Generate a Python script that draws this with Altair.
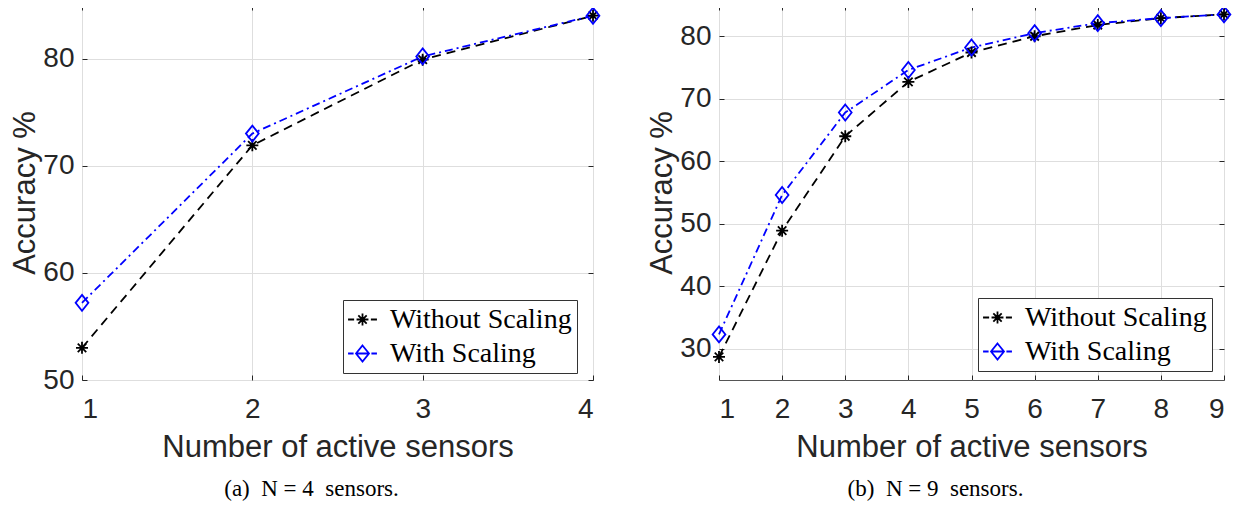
import altair as alt
import pandas as pd

# ---------------- data ----------------
series_names = ["Without Scaling", "With Scaling"]
series_colors = ["#000000", "#0000ff"]

x_left = [1, 2, 3, 4]
without_left = [53.0, 71.9, 79.9, 84.0]
with_left = [57.2, 73.0, 80.2, 84.0]

x_right = [1, 2, 3, 4, 5, 6, 7, 8, 9]
without_right = [28.7, 48.9, 64.0, 72.7, 77.4, 80.0, 81.8, 82.9, 83.5]
with_right = [32.3, 54.6, 67.8, 74.6, 78.2, 80.5, 82.1, 82.9, 83.5]

yticks_left = [50, 60, 70, 80]
yticks_right = [30, 40, 50, 60, 70, 80]

x_title = "Number of active sensors"
y_title = "Accuracy %"
caption_left = "(a)\u00a0\u00a0N\u00a0=\u00a04\u00a0\u00a0sensors."
caption_right = "(b)\u00a0\u00a0N\u00a0=\u00a09\u00a0\u00a0sensors."

# ---------------- styles ----------------
STAR = "M0,-0.75L0,0.75M-0.75,0L0.75,0M-0.53,-0.53L0.53,0.53M-0.53,0.53L0.53,-0.53"
DIAMOND = "M0,-1L0.8,0L0,1L-0.8,0Z"
KEY_STAR = ("M-1.07,0L-0.62,0M0.62,0L1.07,0M0,-0.44L0,0.44M-0.44,0L0.44,0"
            "M-0.31,-0.31L0.31,0.31M-0.31,0.31L0.31,-0.31")
KEY_DIAMOND = "M-1.07,0L-0.66,0M0.66,0L1.07,0M-0.48,0L0.48,0M0,-0.59L0.48,0L0,0.59L-0.48,0Z"
TICK = 5
AX = "#262626"
H = 375


def panel(xs, wo, wi, ydom, yticks, caption, lx, ly, cdx, width):
    df = pd.DataFrame({
        "x": list(xs) * 2,
        "acc": list(wo) + list(wi),
        "series": [series_names[0]] * len(xs) + [series_names[1]] * len(xs),
    })
    base = alt.Chart(df)
    xscale = alt.Scale(domain=[xs[0], xs[-1]], nice=False, zero=False)
    yscale = alt.Scale(domain=ydom, nice=False, zero=False)

    # ticks + labels (inward ticks via negative offset)
    x_axis = alt.Axis(orient="bottom", values=xs, format="d", title=x_title,
                      offset=-TICK, tickSize=TICK, domain=False, grid=False,
                      labelPadding=15, titlePadding=9)
    y_axis = alt.Axis(orient="left", values=yticks, format="d", title=y_title,
                      offset=-TICK, tickSize=TICK, domain=False, grid=False,
                      labelPadding=8, titlePadding=1)
    # grid only
    x_grid = alt.Axis(orient="bottom", values=xs, labels=False, ticks=False,
                      domain=False, grid=True, title=None)
    y_grid = alt.Axis(orient="left", values=yticks, labels=False, ticks=False,
                      domain=False, grid=True, title=None)
    # box ticks on top / right
    top_axis = alt.Axis(orient="top", values=xs, labels=False, title=None,
                        offset=-TICK, tickSize=TICK, domain=False, grid=False)
    right_axis = alt.Axis(orient="right", values=yticks, labels=False, title=None,
                          offset=-TICK, tickSize=TICK, domain=False, grid=False)

    color_scale = alt.Scale(domain=series_names, range=series_colors)

    lines = base.mark_line(strokeWidth=1.8).encode(
        x=alt.X("x:Q", scale=xscale, axis=x_grid),
        y=alt.Y("acc:Q", scale=yscale, axis=y_grid),
        color=alt.Color("series:N", scale=color_scale, legend=None),
        strokeDash=alt.StrokeDash("series:N",
                                  scale=alt.Scale(domain=series_names,
                                                  range=[[9, 6], [8, 4, 2, 4]]),
                                  legend=None),
    )
    points = base.mark_point(filled=False, size=256, strokeWidth=1.8, opacity=1).encode(
        x=alt.X("x:Q", scale=xscale, axis=x_axis),
        y=alt.Y("acc:Q", scale=yscale, axis=y_axis),
        color=alt.Color("series:N", scale=color_scale, legend=None),
        shape=alt.Shape("series:N",
                        scale=alt.Scale(domain=series_names, range=[STAR, DIAMOND]),
                        legend=None),
    )
    leg = dict(title=None, orient="none", legendX=lx, legendY=ly,
               labelFont="Liberation Serif", labelFontSize=28, labelColor="black",
               strokeColor="#333333", fillColor="white", padding=5, rowPadding=5,
               labelOffset=13, symbolSize=729, symbolStrokeWidth=1.8,
               symbolFillColor="transparent", labelLimit=500)
    key = base.transform_filter("datum.x < 0").mark_point(
        filled=False, size=729, strokeWidth=1.8, opacity=1).encode(
        x=alt.X("x:Q", scale=xscale, axis=top_axis),
        y=alt.Y("acc:Q", scale=yscale, axis=right_axis),
        color=alt.Color("series:N", scale=color_scale, legend=alt.Legend(**leg)),
        shape=alt.Shape("series:N",
                        scale=alt.Scale(domain=series_names, range=[KEY_STAR, KEY_DIAMOND]),
                        legend=alt.Legend(**leg)),
    )
    return alt.layer(lines, points, key).resolve_scale(
        color="independent", shape="independent", strokeDash="independent"
    ).resolve_axis(x="independent", y="independent").properties(
        width=width, height=H,
        title=alt.TitleParams(caption, orient="bottom", font="Liberation Serif",
                              fontSize=23, fontWeight="normal", color="black",
                              offset=16, dx=cdx),
    )


left = panel(x_left, without_left, with_left, [50, 85], yticks_left,
             caption_left, 261, 295, -26, 511)
right = panel(x_right, without_right, with_right, [25, 85], yticks_right,
              caption_right, 259, 293, -36, 505)

chart = alt.hconcat(left, right, spacing=126).properties(
    bounds="flush",
    padding={"left": 1, "top": -6, "right": 0, "bottom": 0},
).configure_axis(
    labelFont="Liberation Sans", labelFontSize=28, labelColor=AX,
    titleFont="Liberation Sans", titleFontSize=31, titleFontWeight="normal",
    titleColor=AX, tickColor=AX, gridColor="#dedede", gridWidth=1,
).configure_view(stroke="#555555", strokeWidth=1)

chart.save("out.html", embed_options={"renderer": "svg", "actions": False})
